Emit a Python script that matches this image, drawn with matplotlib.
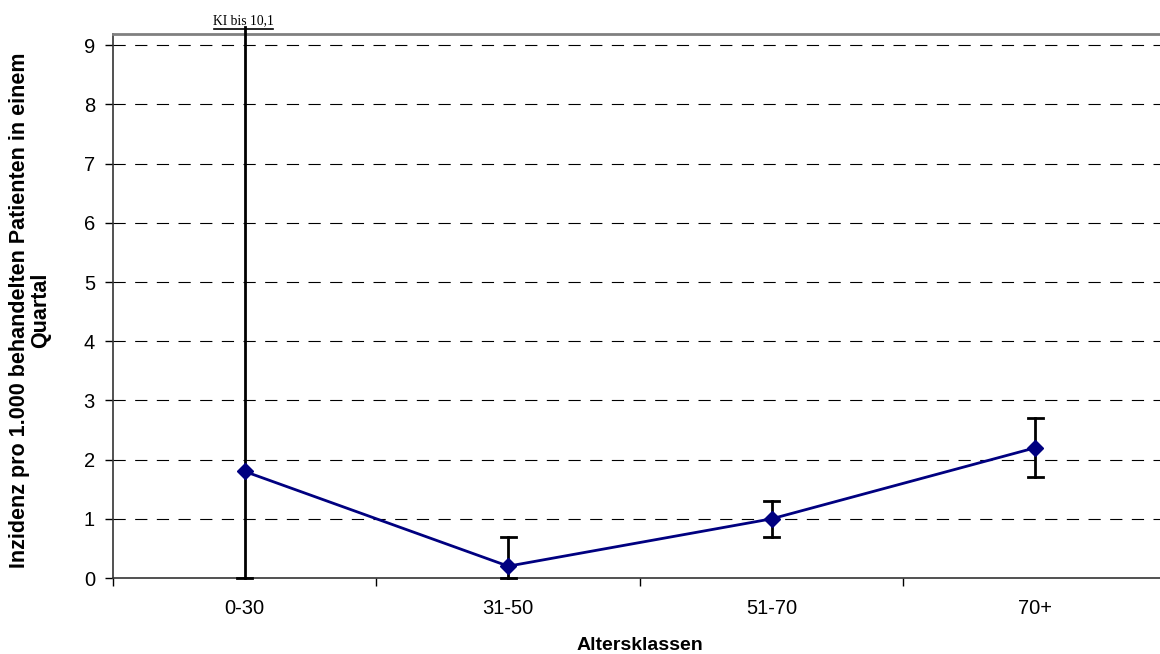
import numpy as np
import matplotlib
matplotlib.use('Agg')
import matplotlib.pyplot as plt

plt.rcParams['font.family'] = ['Liberation Sans', 'DejaVu Sans']

# data
klassen = ['0-30', '31-50', '51-70', '70+']
inzidenz = [1.8, 0.2, 1.0, 2.2]
ki_unten = [0.0, 0.0, 0.7, 1.7]
ki_oben = [10.1, 0.7, 1.3, 2.7]
y_ticks = [0, 1, 2, 3, 4, 5, 6, 7, 8, 9]

y_top = 9.19
y_cut = 9.3  # where the long interval is cut off in the drawing

fig = plt.figure(figsize=(11.6, 6.54), dpi=100)
ax = fig.add_axes([0.0974, 0.1162, 0.9086, 0.8318])

x = np.arange(len(klassen))
inz = np.array(inzidenz)
hi = np.minimum(np.array(ki_oben), y_cut)

for i in range(len(x)):
	cut = ki_oben[i] > y_cut
	# interval line
	ax.plot([x[i], x[i]], [ki_unten[i], hi[i]], color='black', lw=2, clip_on=False, zorder=3)
	ax.plot([x[i] - 0.029, x[i] + 0.029], [ki_unten[i]] * 2, color='black', lw=2, clip_on=False, zorder=3)
	if not cut:
		ax.plot([x[i] - 0.029, x[i] + 0.029], [ki_oben[i]] * 2, color='black', lw=2, clip_on=False, zorder=3)
	else:
		ax.plot([x[i] - 0.118, x[i] + 0.108], [y_cut - 0.02] * 2, color='black', lw=1.2, clip_on=False, zorder=3)
		ax.text(x[i] - 0.005, y_cut + 0.01, 'KI bis ' + str(ki_oben[i]).replace('.', ','), ha='center', va='bottom',
			fontsize=9.8, family=['Liberation Serif', 'DejaVu Serif'])

ax.plot(x, inzidenz, color='#000080', lw=2, marker='D', markersize=8, zorder=4, clip_on=False)

for v in y_ticks[1:]:
	ax.axhline(v, color='black', lw=0.8, linestyle=(0, (11, 8.5)), zorder=1)

ax.set_xlim(-0.5, len(klassen) - 0.5)
ax.set_ylim(0, y_top)
ax.set_yticks(y_ticks)
ax.set_xticks(np.arange(len(klassen) + 1) - 0.5)
ax.set_xticklabels([])
ax.set_xticks(x, minor=True)
ax.set_xticklabels(klassen, minor=True)
ax.tick_params(axis='x', which='major', direction='out', length=6, width=1, color='black')
ax.tick_params(axis='x', which='minor', length=0, pad=15, labelsize=14.5)
ax.tick_params(axis='y', direction='out', length=6, width=1, labelsize=14.5, pad=7)

ax.spines['right'].set_visible(False)
ax.spines['top'].set_color('#808080')
ax.spines['top'].set_linewidth(2)
ax.spines['left'].set_color('#333333')
ax.spines['bottom'].set_color('#333333')
ax.spines['left'].set_linewidth(1.2)
ax.spines['bottom'].set_linewidth(1.2)

fig.text(640 / 1160, 1 - 645 / 654, 'Altersklassen', fontsize=14, fontweight='bold', ha='center', va='center')
fig.text(30 / 1160, 1 - 310 / 654, 'Inzidenz pro 1.000 behandelten Patienten in einem\nQuartal', fontsize=15.5,
	fontweight='bold', ha='center', va='center', rotation=90, linespacing=1.0)

fig.savefig('out.png', dpi=100)
